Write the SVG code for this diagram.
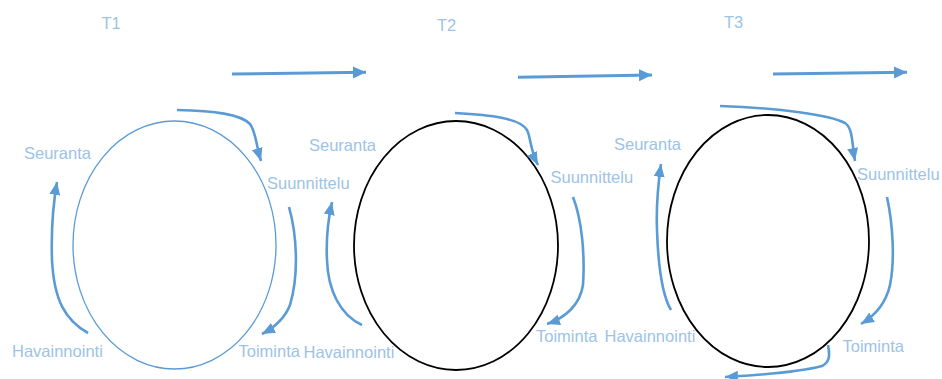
<svg xmlns="http://www.w3.org/2000/svg" width="942" height="379" viewBox="0 0 942 379">
<style>
.lbl{font-family:"Liberation Sans",Arial,sans-serif;font-size:16.5px;fill:#9dc3e6}
.cyc{fill:#fff}
.c1{stroke:#5b9bd5;stroke-width:1.3}
.c2{stroke:#000;stroke-width:1.8}
.arr{fill:none;stroke:#5b9bd5;stroke-width:2.6;marker-end:url(#ah)}
.arrL{fill:none;stroke:#5b9bd5;stroke-width:3;marker-end:url(#ahL)}
</style>
<defs>
<marker id="ah" markerUnits="userSpaceOnUse" markerWidth="14" markerHeight="12" refX="13" refY="5.5" orient="auto" viewBox="0 0 14 12">
<path d="M0,0 L13,5.5 L0,11 z" fill="#5b9bd5"/>
</marker>
<marker id="ahL" markerUnits="userSpaceOnUse" markerWidth="14" markerHeight="13" refX="13" refY="6" orient="auto" viewBox="0 0 14 13">
<path d="M0,0 L13,6 L0,12 z" fill="#5b9bd5"/>
</marker>
</defs>
<rect width="942" height="379" fill="#fff"/>

<g id="cycle1"><ellipse class="cyc c1" cx="174.5" cy="245" rx="101.5" ry="124"/></g>
<g id="cycle2"><ellipse class="cyc c2" cx="456" cy="245.5" rx="102" ry="124.5"/></g>
<g id="cycle3"><ellipse class="cyc c2" cx="768" cy="241" rx="101" ry="126"/></g>

<g id="connectors">
<path class="arrL" d="M232,74 L366,72.3"/>
<path class="arrL" d="M518,77.3 L652,75"/>
<path class="arrL" d="M773,74 L907,72.3"/>

<path class="arr" d="M177,110 C215,111 240,114 250,124 C256,132 256,145 261,161"/>
<path class="arr" d="M289,207 C297,235 299,275 290,305 C285,318 275,327 262,334"/>
<path class="arr" d="M88,333 C65,320 54,300 52,260 C51,230 53,205 57,182"/>

<path class="arr" d="M455,113 C490,115 520,118 527,130 C531,138 530,150 538,165"/>
<path class="arr" d="M573,197 C582,220 585,255 583,285 C580,305 565,318 547,324"/>
<path class="arr" d="M362,325 C340,315 328,290 327,260 C326,240 328,220 332,202"/>

<path class="arr" d="M720,106 C780,108 830,115 845,123 C853,128 852,145 855,161"/>
<path class="arr" d="M887,197 C893,225 895,260 890,285 C886,303 876,315 861,324"/>
<path class="arr" d="M671,310 C662,295 658,260 657,230 C656,205 658,185 661,164"/>
<path class="arr" d="M828,345 C830,355 830,362 822,366 C800,372 760,375 725,377"/>
</g>

<g id="t1"><text class="lbl" x="101.5" y="29">T1</text></g>
<g id="t2"><text class="lbl" x="437" y="31">T2</text></g>
<g id="t3"><text class="lbl" x="724" y="27.7">T3</text></g>

<g id="seuranta1"><text class="lbl" x="24" y="159">Seuranta</text></g>
<g id="suunnittelu1"><text class="lbl" x="267" y="189">Suunnittelu</text></g>
<g id="havainnointi1"><text class="lbl" x="12" y="357">Havainnointi</text></g>
<g id="toiminta1"><text class="lbl" x="238.5" y="357">Toiminta</text></g>

<g id="seuranta2"><text class="lbl" x="309" y="151">Seuranta</text></g>
<g id="suunnittelu2"><text class="lbl" x="550.5" y="183">Suunnittelu</text></g>
<g id="havainnointi2"><text class="lbl" x="303.5" y="357.5">Havainnointi</text></g>
<g id="toiminta2"><text class="lbl" x="536" y="342">Toiminta</text></g>

<g id="seuranta3"><text class="lbl" x="614" y="150">Seuranta</text></g>
<g id="suunnittelu3"><text class="lbl" x="857" y="180">Suunnittelu</text></g>
<g id="havainnointi3"><text class="lbl" x="604.5" y="342">Havainnointi</text></g>
<g id="toiminta3"><text class="lbl" x="842.5" y="352">Toiminta</text></g>
</svg>
